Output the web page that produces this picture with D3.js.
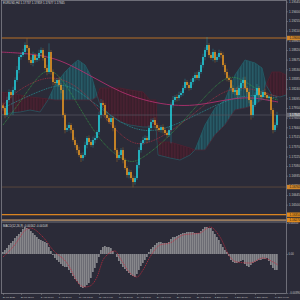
<!DOCTYPE html>
<html>
<head>
<meta charset="utf-8">
<script src="https://cdn.jsdelivr.net/npm/d3@7"></script>
<style>
    body { margin: 0; background: #2b2b38; }
    svg { display: block; }
    text { font-family: "Liberation Sans", Arial, sans-serif; }
</style>
</head>
<body>
<svg id="chart" width="300" height="300"></svg>
<script>
// ---- data ----
const titleText = 'EURUSD,H4  1.17737 1.17859 1.17677 1.17845';
const macdTitle = 'MACD(12,26,9) -0.00162 -0.00108';

const firstOpen = 1.17990;
const closes = [
    1.17950,1.17845,1.18070,1.18190,1.18145,1.18220,1.18370,1.18520,1.18715,1.18745,
    1.18790,1.18895,1.18850,1.18670,1.18625,1.18745,1.18670,1.18700,1.18775,1.18820,
    1.18700,1.18550,1.18490,1.18790,1.18490,1.18340,1.18325,1.18370,1.18295,1.18220,
    1.17845,1.17620,1.17650,1.17695,1.17620,1.17470,1.17395,1.17320,1.17245,1.17200,
    1.17245,1.17395,1.17500,1.17440,1.17395,1.17470,1.17500,1.17590,1.17845,1.18025,
    1.17995,1.17845,1.17800,1.17740,1.17800,1.17650,1.17320,1.17200,1.17245,1.17320,
    1.17170,1.17050,1.16945,1.16990,1.16900,1.16840,1.16900,1.17095,1.17320,1.17425,
    1.17470,1.17500,1.17470,1.17650,1.17740,1.17770,1.17695,1.17650,1.17620,1.17665,
    1.17620,1.17575,1.17545,1.17620,1.17995,1.18070,1.18115,1.18100,1.18145,1.18175,
    1.18250,1.18340,1.18295,1.18250,1.18340,1.18400,1.18445,1.18400,1.18490,1.18595,
    1.18715,1.18820,1.18895,1.18745,1.18700,1.18790,1.18670,1.18715,1.18775,1.18745,
    1.18595,1.18490,1.18400,1.18370,1.18250,1.18190,1.18220,1.18145,1.18250,1.18325,
    1.18370,1.18250,1.18190,1.18070,1.17845,1.17995,1.18145,1.18250,1.18145,1.18115,
    1.18190,1.18145,1.18100,1.18115,1.17920,1.17620,1.17695,1.17845
];
// wick lengths beyond the body, in pips
const wickUp = [
    4,3,5,4,3,5,4,6,3,4, 5,4,10,3,4,5,3,4,5,4, 3,4,5,13,3,4,5,3,4,3,
    4,3,5,4,3,3,4,3,5,3, 4,5,3,4,3,5,4,3,5,6, 4,3,5,3,4,3,4,3,5,3,
    4,3,3,4,3,4,3,5,4,3, 5,4,3,4,5,3,4,3,4,3, 4,3,3,5,4,6,3,4,5,3,
    4,5,3,4,5,3,4,5,3,4, 5,4,12,3,4,5,3,4,5,3, 4,3,5,4,3,4,3,5,4,3,
    4,5,3,4,3,5,4,6,3,4, 3,5,4,3,4,3,4,5
];
const wickDn = [
    4,5,3,4,5,30,4,3,5,4, 3,4,5,4,3,5,4,3,4,5, 4,3,5,3,4,5,3,4,3,5,
    4,5,3,4,5,3,4,5,3,6, 4,3,5,4,3,4,5,3,4,5, 3,4,5,3,4,5,4,6,3,4,
    5,3,4,5,3,8,4,3,5,4, 3,4,5,3,4,3,5,4,3,4, 5,3,4,3,20,4,3,5,4,3,
    4,3,5,4,3,4,5,3,4,3, 4,5,3,4,3,5,4,3,4,5, 3,4,5,3,4,3,5,4,3,4,
    5,3,4,5,7,4,3,5,4,3, 4,5,3,4,6,5,3,4
];

const timeIdx = [0, 9, 19, 28, 38, 48, 58, 67, 77, 87, 97, 106, 116, 126, 136];
const timeLabels = ['26 Jul 2021', '28 Jul 12:00', '3 Aug 08:00', '5 Aug 20:00', '10 Aug 12:00',
    '12 Aug 04:00', '17 Aug 20:00', '19 Aug 12:00', '24 Aug 04:00', '26 Aug 20:00',
    '31 Aug 12:00', '2 Sep 04:00', '7 Sep 20:00', '9 Sep 12:00', '14 Sep 04:00'];

const priceTicks = [1.19545, 1.19400, 1.19255, 1.19110, 1.18965, 1.18820, 1.18675, 1.18530,
    1.18385, 1.18240, 1.18095, 1.17950, 1.17805, 1.17660, 1.17515, 1.17370, 1.17225,
    1.17080, 1.16935, 1.16790, 1.16645, 1.16500, 1.16355];

// horizontal levels: resistance, support, two lower lines
const levelPrices = [1.19000, 1.16765, 1.16350, 1.16270];
const levelColors = ['#8a5a2c', '#5e4a3c', '#d98420', '#9a7c5e'];
const levelWidths = [1.6, 0.9, 1.3, 1.8];

// moving averages, sampled (bar index, price)
const magentaIdx = [-1.5, 8.5, 18.5, 28.5, 38.5, 48.5, 58.5, 70, 82, 93.5, 103.5, 113.5, 123.5, 132, 137.5];
const magentaVal = [1.18790, 1.18775, 1.18745, 1.18670, 1.18520, 1.18355, 1.18190, 1.18070, 1.17995,
    1.17980, 1.18025, 1.18085, 1.18115, 1.18070, 1.18040];
const greenIdx = [0, 10, 16, 22, 28.5, 37, 47, 56, 63.5, 68.5, 78.5, 88.5, 98.5, 106, 112.5, 118.5, 126, 133.5, 137.5];
const greenVal = [1.17695, 1.18100, 1.18370, 1.18550, 1.18445, 1.18025, 1.17515, 1.17245, 1.17125, 1.17170,
    1.17395, 1.17695, 1.18040, 1.18280, 1.18430, 1.18400, 1.18250, 1.18100, 1.18070];
const redIdx = [0, 6, 18.5, 28.5, 40, 48.5, 58.5, 66, 73.5, 83.5, 93.5, 103.5, 113.5, 123.5, 131, 137.5];
const redVal = [1.17995, 1.18190, 1.18400, 1.18415, 1.18220, 1.17890, 1.17545, 1.17395, 1.17425, 1.17590,
    1.17815, 1.18070, 1.18250, 1.18250, 1.18175, 1.18115];
const tealIdx = [0, 13.5, 26, 33.5, 43.5, 53.5, 63.5, 73.5, 83.5, 93.5, 103.5, 113.5, 123.5, 131, 137.5];
const tealVal = [1.17950, 1.18145, 1.18295, 1.18295, 1.18070, 1.17845, 1.17650, 1.17590, 1.17665, 1.17800,
    1.17950, 1.18085, 1.18145, 1.18130, 1.18100];

// ichimoku cloud: span A and span B
const cloudIdx = [-1.5, 3.5, 8.5, 13.5, 18.5, 22.5, 26, 31, 34.5, 37.5, 41, 44.5, 47, 48.5, 53.5, 58.5,
    63.5, 70, 73.5, 76.5, 77.5, 83.5, 88.5, 93.5, 96, 101, 106, 111, 116, 121, 126, 129.5, 131.5,
    134.5, 138.5, 141.5];
const spanA = [1.17845, 1.17875, 1.17890, 1.17920, 1.17890, 1.18070, 1.18295, 1.18490, 1.18595, 1.18670,
    1.18595, 1.18400, 1.18145, 1.17995, 1.17845, 1.17740, 1.17695, 1.17665, 1.17665, 1.17665, 1.17245,
    1.17200, 1.17170, 1.17245, 1.17320, 1.17695, 1.17950, 1.18070, 1.18445, 1.18670, 1.18625, 1.18550,
    1.18295, 1.18145, 1.18115, 1.18145];
const spanB = [1.18190, 1.18175, 1.18145, 1.18115, 1.18100, 1.18085, 1.18070, 1.18070, 1.18070, 1.18070,
    1.18070, 1.18070, 1.18115, 1.18250, 1.18250, 1.18250, 1.18220, 1.18190, 1.18070, 1.18070, 1.17440,
    1.17440, 1.17395, 1.17350, 1.17320, 1.17320, 1.17545, 1.17695, 1.17920, 1.17950, 1.17995, 1.18070,
    1.18295, 1.18490, 1.18490, 1.18445];

// MACD histogram, one value per bar
const macdHist = [
    0.0002,0.0004,0.0006,0.0009,0.0011,0.0013,0.0016,0.0018,0.0020,0.0022,
    0.0025,0.0027,0.0026,0.0025,0.0023,0.0021,0.0019,0.0017,0.0015,0.0014,
    0.0013,0.0012,0.0011,0.0007,0.0003,-0.0001,-0.0004,-0.0006,-0.0008,-0.0010,
    -0.0012,-0.0013,-0.0013,-0.0016,-0.0019,-0.0022,-0.0025,-0.0027,-0.0030,-0.0033,
    -0.0034,-0.0033,-0.0031,-0.0029,-0.0024,-0.0018,-0.0014,-0.0009,-0.0003,0.0004,
    0.0007,0.0008,0.0007,0.0007,0.0006,0.0003,0.0000,-0.0003,-0.0007,-0.0010,
    -0.0013,-0.0015,-0.0017,-0.0019,-0.0021,-0.0022,-0.0023,-0.0020,-0.0016,-0.0012,
    -0.0009,-0.0006,-0.0003,0.0002,0.0005,0.0007,0.0009,0.0011,0.0012,0.0012,
    0.0011,0.0011,0.0011,0.0012,0.0015,0.0017,0.0017,0.0018,0.0019,0.0020,
    0.0021,0.0021,0.0022,0.0022,0.0022,0.0022,0.0021,0.0021,0.0021,0.0023,
    0.0025,0.0027,0.0027,0.0026,0.0026,0.0023,0.0020,0.0017,0.0014,0.0010,
    0.0007,0.0004,0.0002,-0.0002,-0.0006,-0.0008,-0.0009,-0.0009,-0.0008,-0.0007,
    -0.0006,-0.0010,-0.0012,-0.0013,-0.0011,-0.0009,-0.0008,-0.0007,-0.0006,-0.0006,
    -0.0005,-0.0005,-0.0004,-0.0007,-0.0011,-0.0014,-0.0016,-0.0016
];
const signalIdx = [0, 5, 12, 13.5, 20, 25, 32, 38.5, 41, 43.5, 47, 50, 52, 56, 58.5, 63.5, 67, 70, 73.5,
    78.5, 83.5, 90, 98.5, 103.5, 108.5, 113.5, 117, 123.5, 130, 135, 137.5];
const signalVal = [-0.0003, 0.0007, 0.0025, 0.0026, 0.0017, 0.0004, -0.0009, -0.0031, -0.0033, -0.0032,
    -0.0023, -0.0006, -0.0001, 0.0003, -0.0004, -0.0019, -0.0023, -0.0016, -0.0003, 0.0009, 0.0011,
    0.0019, 0.0021, 0.0027, 0.0017, -0.0003, -0.0008, -0.0009, -0.0004, -0.0008, -0.0011];
const macdTop = 0.00310;
const macdBottom = -0.00390;

// ---- drawing ----
class TradingChart {

    constructor(svg) {
        this.svg = svg;
        this.box = {left: 1.5, right: 286.5, top: 0.5, mainBottom: 221.5, subTop: 222.5, bottom: 293.5};
        this.x = d3.scaleLinear().domain([0, closes.length - 1]).range([3, 277]);
        this.y = d3.scaleLinear().domain([1.16248, 1.19570]).range([221.5, 0]);
        this.yMacd = d3.scaleLinear().domain([macdBottom, macdTop]).range([293, 223]);
        this.bull = '#22d3e0';
        this.bear = '#ee9a22';
    }

    draw() {
        this.defs();
        this.drawMain();
        this.drawMacd();
        this.drawAxes();
        this.drawFrame();
    }

    defs() {
        let defs = this.svg.append('defs');
        defs.append('clipPath').attr('id', 'mainClip')
            .append('rect').attr('x', this.box.left).attr('y', 0)
            .attr('width', this.box.right - this.box.left).attr('height', this.box.mainBottom);
        defs.append('clipPath').attr('id', 'subClip')
            .append('rect').attr('x', this.box.left).attr('y', this.box.subTop)
            .attr('width', this.box.right - this.box.left).attr('height', this.box.bottom - this.box.subTop);

        let hatch = (id, base, line, w) => {
            let p = defs.append('pattern').attr('id', id)
                .attr('width', w).attr('height', 4).attr('patternUnits', 'userSpaceOnUse');
            p.append('rect').attr('width', w).attr('height', 4).attr('fill', base);
            p.append('rect').attr('width', w * 0.45).attr('height', 4).attr('fill', line);
        };
        hatch('hatchTeal', '#203f4c', '#2a6570', 1.5);
        hatch('hatchRed', '#371e2b', '#4e2233', 1.5);
        // histogram bars look lightly striped
        hatch('hatchGray', '#6c6c74', '#8a8a8e', 2);
    }

    drawMain() {
        let x = this.x, y = this.y;
        let g = this.svg.append('g').attr('clip-path', 'url(#mainClip)');

        // cloud, split where the spans cross
        let pts = cloudIdx.map((d, i) => ({i: d, a: spanA[i], b: spanB[i]}));
        let pieces = [];
        for (let k = 0; k < pts.length - 1; k++) {
            let p = pts[k], q = pts[k + 1];
            let dp = p.a - p.b, dq = q.a - q.b;
            if (dp * dq < 0) {
                let t = dp / (dp - dq);
                let m = {i: p.i + t * (q.i - p.i), a: p.a + t * (q.a - p.a)};
                m.b = m.a;
                pieces.push({pts: [p, m], up: dp > 0});
                pieces.push({pts: [m, q], up: dq > 0});
            } else {
                pieces.push({pts: [p, q], up: dp + dq >= 0});
            }
        }
        let area = d3.area().x(d => x(d.i)).y0(d => y(d.a)).y1(d => y(d.b));
        g.append('g').selectAll('path').data(pieces).enter().append('path')
            .attr('d', d => area(d.pts))
            .attr('fill', d => d.up ? 'url(#hatchTeal)' : 'url(#hatchRed)')
            .attr('stroke', d => d.up ? '#203f4c' : '#371e2b')
            .attr('stroke-width', 0.3);

        let edge = d3.line().x(d => x(d.i)).y(d => y(d.v));
        g.append('path').attr('d', edge(cloudIdx.map((d, i) => ({i: d, v: spanA[i]}))))
            .attr('fill', 'none').attr('stroke', '#236a74').attr('stroke-width', 0.6);
        g.append('path').attr('d', edge(cloudIdx.map((d, i) => ({i: d, v: spanB[i]}))))
            .attr('fill', 'none').attr('stroke', '#5a2232').attr('stroke-width', 0.6);

        // moving averages
        let ma = d3.line().x(d => x(d.i)).y(d => y(d.v)).curve(d3.curveBasis);
        let series = [
            {idx: tealIdx, val: tealVal, color: '#26a0a4', dash: '1,0.8', w: 0.7},
            {idx: redIdx, val: redVal, color: '#b83044', dash: '1,0.8', w: 0.7},
            {idx: greenIdx, val: greenVal, color: '#36a848', dash: '1,0.8', w: 0.7},
            {idx: magentaIdx, val: magentaVal, color: '#b0306e', dash: null, w: 0.9}
        ];
        series.forEach(s => {
            g.append('path')
                .attr('d', ma(s.idx.map((d, i) => ({i: d, v: s.val[i]}))))
                .attr('fill', 'none').attr('stroke', s.color)
                .attr('stroke-width', s.w).attr('stroke-dasharray', s.dash);
        });

        // horizontal levels and current price line
        g.selectAll('.level').data(levelPrices).enter().append('line')
            .attr('x1', this.box.left).attr('x2', this.box.right)
            .attr('y1', d => y(d)).attr('y2', d => y(d))
            .attr('stroke', (d, i) => levelColors[i]).attr('stroke-width', (d, i) => levelWidths[i]);
        let last = closes[closes.length - 1];
        g.append('line').attr('x1', this.box.left).attr('x2', this.box.right)
            .attr('y1', y(last)).attr('y2', y(last)).attr('stroke', '#575763').attr('stroke-width', 0.7);

        // candles
        let candles = closes.map((c, i) => {
            let o = i === 0 ? firstOpen : closes[i - 1];
            return {i, o, c, h: Math.max(o, c) + wickUp[i] / 10000, l: Math.min(o, c) - wickDn[i] / 10000};
        });
        let cg = g.append('g');
        cg.selectAll('line').data(candles).enter().append('line')
            .attr('x1', d => x(d.i)).attr('x2', d => x(d.i))
            .attr('y1', d => y(d.h)).attr('y2', d => y(d.l))
            .attr('stroke', d => d.c >= d.o ? this.bull : this.bear)
            .attr('stroke-width', 0.5).attr('opacity', 0.6);
        cg.selectAll('rect').data(candles).enter().append('rect')
            .attr('x', d => x(d.i) - 0.75).attr('width', 1.5)
            .attr('y', d => y(Math.max(d.o, d.c)))
            .attr('height', d => Math.max(0.6, Math.abs(y(d.o) - y(d.c))))
            .attr('fill', d => d.c >= d.o ? this.bull : this.bear);

        this.svg.append('text').attr('x', 3).attr('y', 4.2)
            .attr('font-size', 2.9).attr('fill', '#d8d8d8').text(titleText);
    }

    drawMacd() {
        let x = this.x, ym = this.yMacd;
        let g = this.svg.append('g').attr('clip-path', 'url(#subClip)');
        g.selectAll('rect').data(macdHist).enter().append('rect')
            .attr('x', (d, i) => x(i) - 1).attr('width', 2)
            .attr('y', d => ym(Math.max(0, d)))
            .attr('height', d => Math.abs(ym(d) - ym(0)))
            .attr('fill', 'url(#hatchGray)');
        let line = d3.line().x(d => x(d.i)).y(d => ym(d.v)).curve(d3.curveMonotoneX);
        g.append('path').attr('d', line(signalIdx.map((d, i) => ({i: d, v: signalVal[i]}))))
            .attr('fill', 'none').attr('stroke', '#c8283c')
            .attr('stroke-width', 0.7).attr('stroke-dasharray', '1.4,0.8');
        this.svg.append('text').attr('x', 3).attr('y', 226.5)
            .attr('font-size', 2.9).attr('fill', '#d8d8d8').text(macdTitle);
    }

    drawAxes() {
        let b = this.box;
        let axis = d3.axisRight(this.y).tickValues(priceTicks)
            .tickFormat(d3.format('.5f')).tickSize(1.5).tickPadding(1);
        let ga = this.svg.append('g').attr('transform', `translate(${b.right},0)`).call(axis);
        ga.select('.domain').remove();
        ga.selectAll('line').attr('stroke', '#8a8a8a').attr('stroke-width', 0.5);
        ga.selectAll('text').attr('font-size', 3).attr('fill', '#c8c8c8').attr('font-family', null);

        let macdAxis = d3.axisRight(this.yMacd).tickValues([macdTop, 0, macdBottom])
            .tickFormat(d => d === 0 ? '0.00' : d3.format('.5f')(d)).tickSize(1.5).tickPadding(0.6);
        let gm = this.svg.append('g').attr('transform', `translate(${b.right},0)`).call(macdAxis);
        gm.select('.domain').remove();
        gm.selectAll('line').attr('stroke', '#8a8a8a').attr('stroke-width', 0.5);
        gm.selectAll('text').attr('font-size', 2.7).attr('fill', '#c8c8c8').attr('font-family', null);

        // highlighted price labels
        let tags = [
            {v: levelPrices[0], fill: '#d0862a', txt: '#1a1a1a'},
            {v: closes[closes.length - 1], fill: '#6a6a72', txt: '#f0f0f0'},
            {v: levelPrices[1], fill: '#d0862a', txt: '#1a1a1a'},
            {v: levelPrices[2], fill: '#e08a1c', txt: '#1a1a1a'},
            {v: levelPrices[3], fill: '#e08a1c', txt: '#1a1a1a'}
        ];
        let tg = this.svg.append('g').selectAll('g').data(tags).enter().append('g')
            .attr('transform', d => `translate(${b.right + 0.5},${this.y(d.v)})`);
        tg.append('rect').attr('x', 0).attr('y', -2.2).attr('width', 13).attr('height', 4.4)
            .attr('fill', d => d.fill);
        tg.append('text').attr('x', 2.5).attr('dy', '0.35em').attr('font-size', 3)
            .attr('fill', d => d.txt).text(d => d3.format('.5f')(d.v));

        let xa = d3.axisBottom(this.x).tickValues(timeIdx)
            .tickFormat((d, i) => timeLabels[i]).tickSize(1.5).tickPadding(0.8);
        let gx = this.svg.append('g').attr('transform', `translate(0,${b.bottom})`).call(xa);
        gx.select('.domain').remove();
        gx.selectAll('line').attr('stroke', '#8a8a8a').attr('stroke-width', 0.5);
        gx.selectAll('text').attr('font-size', 2.4).attr('fill', '#c8c8c8')
            .attr('font-family', null).attr('text-anchor', 'start').attr('dx', -0.8);
    }

    drawFrame() {
        let b = this.box;
        let g = this.svg.append('g').attr('fill', 'none').attr('stroke', '#8c8c94').attr('stroke-width', 0.7);
        g.append('rect').attr('x', b.left).attr('y', b.top)
            .attr('width', b.right - b.left).attr('height', b.bottom - b.top);
        g.append('line').attr('x1', b.left).attr('x2', b.right)
            .attr('y1', b.mainBottom + 0.5).attr('y2', b.mainBottom + 0.5);
    }
}

new TradingChart(d3.select('#chart')).draw();
</script>
</body>
</html>
